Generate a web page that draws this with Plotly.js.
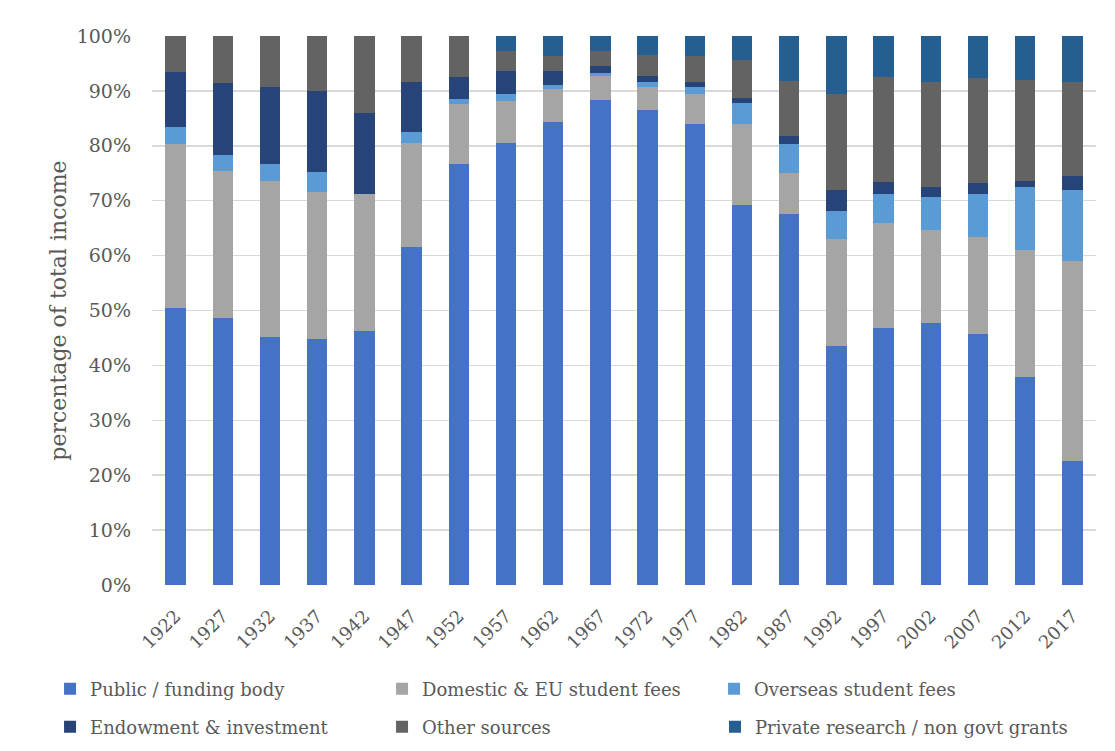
<!DOCTYPE html>
<html>
<head>
<meta charset="utf-8">
<script src="https://cdn.plot.ly/plotly-3.0.1.min.js"></script>
<style>html,body{margin:0;padding:0;background:#fff;}#chart{width:1115px;height:751px;}</style>
</head>
<body>
<div id="chart"></div>
<script>
const years = ['1922','1927','1932','1937','1942','1947','1952','1957','1962','1967','1972','1977','1982','1987','1992','1997','2002','2007','2012','2017'];
const publicFunding = [50.5,48.6,45.2,44.8,46.3,61.6,76.7,80.6,84.4,88.3,86.6,84.0,69.3,67.5,43.6,46.8,47.7,45.8,37.8,22.6];
const domesticFees  = [29.8,26.8,28.4,26.8,24.9,18.9,10.9,7.6,5.9,4.5,4.1,5.4,14.7,7.5,19.4,19.1,16.9,17.6,23.2,36.4];
const overseasFees  = [3.2,2.9,3.1,3.6,0,2.1,0.9,1.2,0.7,0.5,0.9,1.3,3.8,5.3,5.2,5.3,6.1,7.9,11.5,13.0];
const endowment     = [9.9,13.1,14.0,14.8,14.8,9.0,4.0,4.3,2.7,1.2,1.2,0.9,0.9,1.4,3.8,2.2,1.8,1.9,1.1,2.5];
const otherSources  = [6.6,8.6,9.3,10.0,14.0,8.4,7.5,3.6,2.7,2.8,3.7,4.8,7.0,10.1,17.4,19.1,19.1,19.1,18.4,17.1];
const privateGrants = [0,0,0,0,0,0,0,2.7,3.6,2.7,3.5,3.6,4.3,8.2,10.6,7.5,8.4,7.7,8.0,8.4];
const yTicks = [0,10,20,30,40,50,60,70,80,90,100];
const yTickLabels = ['0%','10%','20%','30%','40%','50%','60%','70%','80%','90%','100%'];

const series = [
  {name:'Public / funding body', y:publicFunding, color:'#4472C4', legend:'legend'},
  {name:'Domestic & EU student fees', y:domesticFees, color:'#A5A5A5', legend:'legend'},
  {name:'Overseas student fees', y:overseasFees, color:'#5B9BD5', legend:'legend'},
  {name:'Endowment & investment', y:endowment, color:'#264478', legend:'legend2'},
  {name:'Other sources', y:otherSources, color:'#636363', legend:'legend2'},
  {name:'Private research / non govt grants', y:privateGrants, color:'#255E91', legend:'legend3'}
];
const traces = series.map(s => ({
  type:'bar', name:s.name, x:years, y:s.y, legend:s.legend,
  marker:{color:s.color, line:{width:0}},
  hoverinfo:'x+y+name'
}));
const font = "'DejaVu Serif', 'Liberation Serif', serif";
const grey = '#595959';
const legendBase = {orientation:'h', x:-0.108, xanchor:'left', yanchor:'middle',
  entrywidth:287, entrywidthmode:'pixels', traceorder:'normal',
  font:{family:font, size:18, color:grey}, itemwidth:30, bgcolor:'rgba(0,0,0,0)'};
const row1Y = -(689-585)/549, row2Y = -(727-585)/549;
const layout = {
  width:1115, height:751,
  margin:{l:152, r:19, t:36, b:166, autoexpand:false},
  barmode:'stack', bargap:0.57,
  paper_bgcolor:'#fff', plot_bgcolor:'#fff',
  font:{family:font, color:grey, size:17},
  showlegend:true,
  legend:Object.assign({}, legendBase, {y:row1Y}),
  legend2:Object.assign({}, legendBase, {y:row2Y}),
  legend3:{orientation:'h', x:(715-152)/944, xanchor:'left', yanchor:'middle', y:row2Y,
           font:{family:font, size:18, color:grey}, itemwidth:30, bgcolor:'rgba(0,0,0,0)'},
  xaxis:{type:'category', tickangle:-45, tickfont:{family:font, size:18, color:grey},
         showgrid:false, showline:false, ticks:'', zeroline:false, ticklabelstandoff:16},
  yaxis:{range:[0,100], tickvals:yTicks, ticktext:yTickLabels,
         tickfont:{family:font, size:19, color:grey},
         showgrid:true, gridcolor:'#d9d9d9', gridwidth:1.5, zeroline:false, showline:false,
         ticks:'', ticklen:0, ticklabelstandoff:20,
         title:{text:'percentage of total income', font:{family:font, size:22, color:grey}, standoff:3}}
};
Plotly.newPlot('chart', traces, layout, {displayModeBar:false, staticPlot:true});
</script>
</body>
</html>
